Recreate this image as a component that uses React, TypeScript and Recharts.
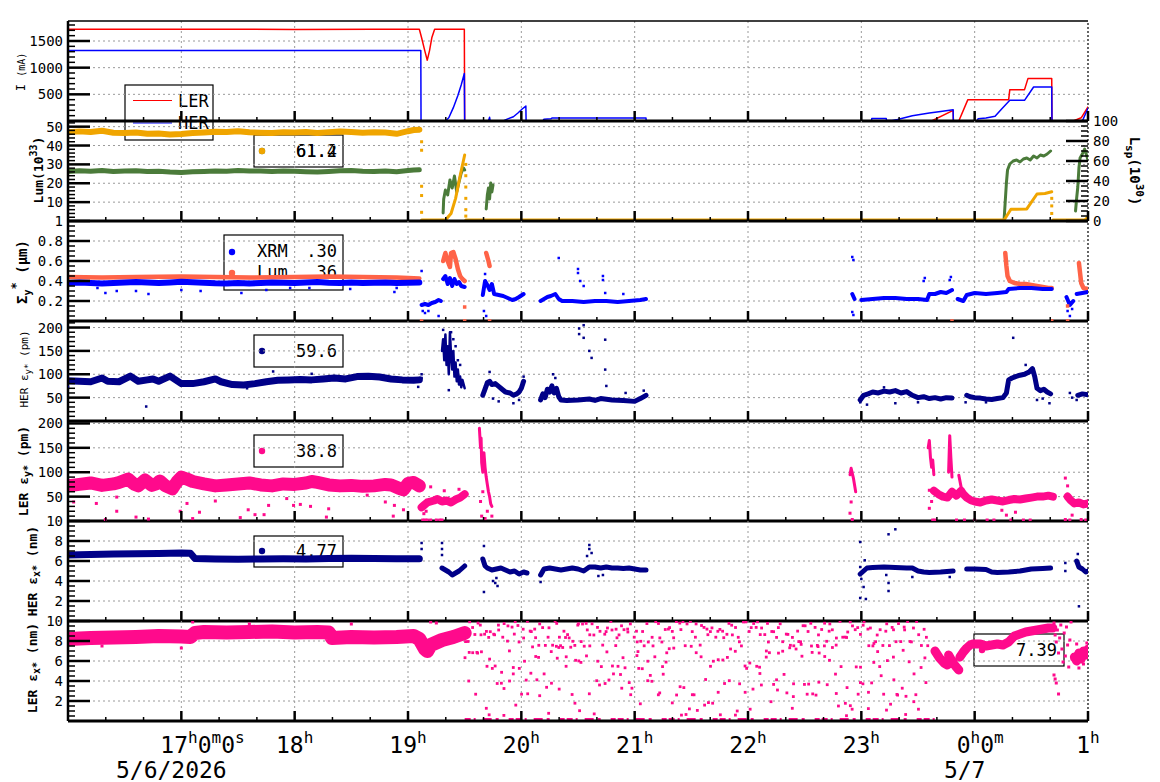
import React from "react"
import { ComposedChart, Line, Scatter, XAxis, YAxis, CartesianGrid, ReferenceLine } from "recharts"

type Pt = [number, number | null]

const MONO = "'DejaVu Sans Mono', monospace"
const RED = "#ff0000"
const BLUE = "#0000ff"
const ORANGE = "#f0a500"
const GREEN = "#4b7b3a"
const TOMATO = "#ff6347"
const NAVY = "#000088"
const PINK = "#ff0a8c"
const GRID = "#9a9a9a"

// time axis in hours since 16:00 of 5/6 (25 = 01:00 on 5/7)
const hourTicks = [17, 18, 19, 20, 21, 22, 23, 24, 25]
const hourNames = ["17", "18", "19", "20", "21", "22", "23", "0", "1"]
const hourExtra: Record<number, [string, string][]> = { 17: [["0", "m"], ["0", "s"]], 24: [["0", "m"]] }
const dateNames: Record<number, string> = { 17: "5/6/2026", 24: "5/7" }

// ---- beam currents I (mA)
const lerCurrent: Pt[] = [
  [16, 1720], [16.6, 1718], [17.3, 1722], [18.0, 1716], [18.7, 1720], [19.1, 1720],
  [19.12, 1560], [19.15, 1300], [19.17, 1140], [19.19, 1320], [19.21, 1560], [19.235, 1720],
  [19.497, 1720], [19.5, 0], [23.62, 0], [23.81, 200], [23.812, 0], [23.86, 0], [23.94, 400],
  [24.3, 400], [24.31, 588], [24.44, 588], [24.47, 795], [24.68, 795], [24.682, 0], [24.87, 0],
  [24.94, 60], [25, 263],
]
const herCurrent: Pt[] = [
  [16, 1320], [19.113, 1320], [19.115, 0], [19.33, 0], [19.36, 60], [19.4, 250], [19.44, 480],
  [19.47, 680], [19.497, 890], [19.5, 0], [19.71, 0], [19.72, 70], [19.725, 0], [19.84, 0],
  [19.88, 40], [19.93, 80], [19.97, 150], [20.01, 230], [20.04, 280], [20.042, 0], [20.19, 0],
  [20.2, 35], [20.26, 40], [20.27, 55], [21.1, 55], [21.102, 0], [23.09, 0], [23.092, 45],
  [23.22, 45], [23.222, 10], [23.27, 10], [23.32, 30], [23.45, 100], [23.6, 150], [23.7, 180],
  [23.81, 213], [23.812, 0], [24.02, 0], [24.03, 40], [24.1, 55], [24.18, 88], [24.24, 230],
  [24.31, 388], [24.44, 388], [24.52, 638], [24.68, 638], [24.682, 0], [24.95, 0], [25, 240],
]

// ---- luminosity Lum (1e33, left) and Lsp (1e30, right)
const lumEarly: Pt[] = [
  [16, 47], [16.1, 47.5], [16.2, 47.2], [16.3, 47.8], [16.4, 46.8], [16.5, 46.6], [16.6, 46.9],
  [16.7, 46.2], [16.8, 46.4], [16.9, 45.8], [17.0, 46.1], [17.1, 46.6], [17.2, 46.9], [17.3, 47.3],
  [17.4, 47.2], [17.5, 47.6], [17.6, 47.0], [17.7, 46.8], [17.8, 46.7], [17.9, 47.0], [18.0, 46.9],
  [18.1, 47.2], [18.2, 46.6], [18.3, 47.1], [18.4, 47.4], [18.5, 47.2], [18.6, 46.8], [18.7, 47.0],
  [18.8, 46.9], [18.9, 46.2], [19.0, 47.6], [19.05, 48.2], [19.1, 48.4],
]
const lumLate: Pt[] = [
  [19.12, 0.5], [19.33, 0.5], [19.38, 4], [19.42, 12], [19.46, 24], [19.5, 35], [19.505, null],
  [19.51, 0.5], [24.26, 0.5], [24.32, 6.2], [24.46, 6.4], [24.55, 14.3], [24.62, 14.6],
  [24.68, 15.5], [24.685, null], [24.69, 0.5], [24.97, 0.5], [25, 2],
]
const lumDots: Pt[] = [
  [19.12, 42], [19.12, 37.5], [19.12, 18.4], [19.12, 13.5], [19.12, 4.6],
  [19.51, 30], [19.51, 24], [19.51, 18], [19.51, 12], [19.51, 6], [19.51, 2.6],
  [24.68, 12], [24.68, 8], [24.68, 4],
]
const lspEarly: Pt[] = [
  [16, 49.5], [16.1, 50.2], [16.2, 49.8], [16.3, 50.6], [16.4, 49.6], [16.5, 49.9], [16.6, 50.3],
  [16.7, 49.4], [16.8, 49.7], [16.9, 49.0], [17.0, 48.6], [17.1, 49.2], [17.2, 49.6], [17.3, 50.1],
  [17.4, 49.8], [17.5, 50.4], [17.6, 49.9], [17.7, 50.1], [17.8, 49.5], [17.9, 50.0], [18.0, 49.7],
  [18.1, 49.3], [18.2, 48.9], [18.3, 49.6], [18.4, 50.2], [18.5, 50.4], [18.6, 49.8], [18.7, 49.5],
  [18.8, 50.0], [18.9, 49.2], [19.0, 50.4], [19.05, 51.0], [19.1, 51.2],
]
const lspLate: Pt[] = [
  [19.31, 8], [19.315, 22], [19.33, 31], [19.35, 26], [19.37, 41], [19.39, 33], [19.41, 45],
  [19.43, 29], [19.45, 39], [19.47, 48], [19.49, 53], [19.5, 51], [19.505, null],
  [19.69, 12], [19.7, 26], [19.71, 33], [19.72, 22], [19.73, 38], [19.74, 29], [19.75, 36], [19.755, null],
  [24.26, 2], [24.27, 20], [24.28, 38], [24.29, 51], [24.31, 57], [24.34, 60], [24.37, 61],
  [24.4, 59], [24.43, 62], [24.46, 63], [24.49, 61], [24.52, 65], [24.55, 63], [24.58, 66],
  [24.61, 65], [24.64, 67], [24.67, 70], [24.675, null],
  [24.89, 10], [24.9, 23], [24.91, 34], [24.92, 53], [24.93, 63], [24.95, 67], [24.97, 72],
  [24.99, 65], [25, 61],
]

// ---- Sigma_y* (um): XRM and from luminosity
const xrmEarly: Pt[] = [
  [16, 0.38], [16.1, 0.385], [16.2, 0.38], [16.3, 0.375], [16.4, 0.38], [16.5, 0.385], [16.6, 0.39],
  [16.7, 0.385], [16.8, 0.38], [16.9, 0.385], [17.0, 0.392], [17.1, 0.388], [17.2, 0.383],
  [17.3, 0.378], [17.4, 0.376], [17.5, 0.38], [17.6, 0.375], [17.7, 0.38], [17.8, 0.385],
  [17.9, 0.383], [18.0, 0.38], [18.1, 0.385], [18.2, 0.39], [18.3, 0.382], [18.4, 0.38],
  [18.5, 0.385], [18.6, 0.38], [18.7, 0.382], [18.8, 0.385], [18.9, 0.38], [19.0, 0.383], [19.1, 0.385],
]
const xrmLate: Pt[] = [
  [19.12, 0.16], [19.15, 0.17], [19.18, 0.16], [19.21, 0.18], [19.24, 0.19], [19.27, 0.21], [19.29, 0.2], [19.295, null],
  [19.31, 0.42], [19.33, 0.45], [19.35, 0.37], [19.37, 0.43], [19.39, 0.35], [19.41, 0.42], [19.43, 0.37],
  [19.45, 0.39], [19.47, 0.35], [19.5, 0.34], [19.505, null],
  [19.66, 0.26], [19.68, 0.4], [19.7, 0.36], [19.72, 0.31], [19.74, 0.37], [19.76, 0.27], [19.8, 0.26],
  [19.84, 0.25], [19.88, 0.23], [19.92, 0.21], [19.95, 0.22], [19.98, 0.24], [20.02, 0.27], [20.03, null],
  [20.17, 0.2], [20.2, 0.22], [20.23, 0.24], [20.26, 0.25], [20.3, 0.27], [20.33, 0.22], [20.36, 0.2],
  [20.45, 0.2], [20.55, 0.19], [20.65, 0.2], [20.75, 0.2], [20.85, 0.19], [20.95, 0.2], [21.05, 0.21],
  [21.1, 0.22], [21.11, null],
  [22.92, 0.27], [22.94, 0.22], [22.96, null], [23.0, 0.21], [23.1, 0.22], [23.2, 0.23], [23.3, 0.23],
  [23.4, 0.22], [23.5, 0.22], [23.58, 0.21], [23.6, 0.27], [23.65, 0.27], [23.7, 0.29], [23.75, 0.28],
  [23.8, 0.31], [23.82, null], [23.85, 0.22], [23.9, 0.2], [23.93, 0.26], [24.0, 0.28], [24.1, 0.27],
  [24.2, 0.28], [24.28, 0.29], [24.3, 0.32], [24.4, 0.33], [24.5, 0.33], [24.6, 0.32], [24.68, 0.32],
  [24.69, null], [24.81, 0.24], [24.84, 0.16], [24.87, 0.2], [24.88, null], [24.9, 0.27], [24.95, 0.28], [25, 0.29],
]
const xrmDots: Pt[] = [
  [16.26, 0.33], [16.33, 0.28], [16.43, 0.3], [16.6, 0.3], [16.71, 0.27], [17.0, 0.31], [17.17, 0.3],
  [17.53, 0.28], [17.75, 0.31], [17.96, 0.33], [18.13, 0.33], [18.49, 0.32], [18.88, 0.29], [18.9, 0.33],
  [19.12, 0.5], [19.13, 0.1], [19.15, 0.08], [19.18, 0.1], [19.27, 0.05], [19.67, 0.1], [19.68, 0.47],
  [19.69, 0.05], [20.33, 0.63], [20.5, 0.52], [20.5, 0.48], [20.52, 0.4], [20.55, 0.35], [20.72, 0.45],
  [20.72, 0.41], [20.74, 0.28], [20.9, 0.27], [22.92, 0.64], [22.93, 0.61], [22.92, 0.09], [22.93, 0.06],
  [23.55, 0.4], [23.56, 0.43], [23.78, 0.41], [23.79, 0.44], [24.82, 0.1], [24.84, 0.05], [24.86, 0.12],
]
const sigLumEarly: Pt[] = [
  [16, 0.44], [16.3, 0.435], [16.6, 0.44], [17.0, 0.445], [17.3, 0.44], [17.6, 0.435], [18.0, 0.44],
  [18.3, 0.445], [18.6, 0.44], [18.9, 0.435], [19.0, 0.43], [19.1, 0.425],
]
const sigLumLate: Pt[] = [
  [19.31, 0.6], [19.33, 0.68], [19.35, 0.6], [19.37, 0.54], [19.38, 0.68], [19.4, 0.69], [19.42, 0.62],
  [19.44, 0.52], [19.46, 0.45], [19.48, 0.42], [19.5, 0.4], [19.505, null],
  [19.69, 0.68], [19.7, 0.64], [19.71, 0.6], [19.72, 0.55], [19.73, null],
  [24.27, 0.68], [24.28, 0.55], [24.29, 0.45], [24.31, 0.4], [24.35, 0.38], [24.4, 0.37], [24.45, 0.37],
  [24.5, 0.36], [24.55, 0.35], [24.6, 0.34], [24.65, 0.33], [24.68, 0.33], [24.69, null],
  [24.92, 0.58], [24.93, 0.48], [24.94, 0.38], [24.96, 0.33], [25, 0.32],
]
const sigLumDots: Pt[] = [
  [19.12, 0], [19.5, 0], [19.5, 0.14], [19.72, 0], [23.8, 0], [24.68, 0], [24.82, 0], [24.82, 0.15],
]

// ---- HER eps_y* (pm)
const herEyEarly: Pt[] = [
  [16, 86], [16.1, 85], [16.2, 84], [16.3, 92], [16.35, 85], [16.45, 84], [16.55, 96], [16.62, 85],
  [16.7, 88], [16.75, 90], [16.8, 85], [16.9, 96], [16.95, 88], [17.0, 80], [17.1, 80], [17.2, 84],
  [17.3, 90], [17.35, 84], [17.45, 78], [17.55, 77], [17.65, 80], [17.75, 84], [17.85, 87], [17.95, 88],
  [18.05, 89], [18.15, 88], [18.25, 90], [18.35, 92], [18.45, 90], [18.55, 95], [18.65, 96], [18.75, 94],
  [18.85, 90], [18.95, 88], [19.05, 87], [19.1, 88],
]
const herEySpikes: Pt[] = [
  [19.3, 150], [19.31, 175], [19.32, 130], [19.33, 185], [19.34, 120], [19.35, 160], [19.36, 100],
  [19.37, 190], [19.38, 140], [19.39, 110], [19.4, 150], [19.41, 95], [19.42, 125], [19.43, 85],
  [19.44, 110], [19.45, 78], [19.46, 95], [19.47, 72], [19.48, 88], [19.5, 70],
]
const herEyLate: Pt[] = [
  [19.66, 55], [19.67, 62], [19.69, 75], [19.7, 82], [19.72, 85], [19.74, 78], [19.77, 80], [19.8, 74],
  [19.83, 68], [19.86, 62], [19.9, 60], [19.93, 55], [19.96, 58], [19.98, 62], [20.0, 70], [20.02, 85], [20.03, null],
  [20.17, 45], [20.19, 58], [20.21, 50], [20.23, 68], [20.25, 62], [20.27, 75], [20.29, 60], [20.31, 70],
  [20.33, 52], [20.35, 45], [20.4, 44], [20.5, 45], [20.6, 47], [20.65, 44], [20.7, 48], [20.8, 45],
  [20.9, 44], [21.0, 42], [21.05, 48], [21.1, 55], [21.11, null],
  [22.99, 45], [23.02, 55], [23.06, 58], [23.1, 62], [23.15, 60], [23.2, 64], [23.25, 62], [23.3, 65],
  [23.35, 60], [23.4, 63], [23.45, 55], [23.5, 50], [23.55, 52], [23.6, 48], [23.65, 50], [23.7, 47],
  [23.75, 50], [23.8, 49], [23.82, null],
  [23.93, 55], [23.96, 52], [24.0, 50], [24.05, 49], [24.1, 47], [24.15, 46], [24.2, 48], [24.25, 50],
  [24.28, 60], [24.3, 88], [24.33, 92], [24.36, 95], [24.4, 98], [24.44, 100], [24.48, 105], [24.51, 112],
  [24.53, 95], [24.55, 70], [24.58, 65], [24.61, 68], [24.64, 62], [24.67, 58], [24.68, null],
  [24.91, 55], [24.95, 58], [25, 56],
]
const herEyDots: Pt[] = [
  [16.0, 73], [16.69, 31], [17.58, 70], [17.81, 106], [18.15, 101], [19.09, 73], [19.12, 92], [19.12, 100],
  [19.31, 195], [19.33, 160], [19.35, 140], [19.38, 190], [19.4, 175], [19.42, 160], [19.36, 66],
  [19.44, 130], [19.46, 120], [19.72, 105], [19.75, 48], [19.8, 42], [19.93, 38], [19.98, 45], [20.02, 95],
  [20.28, 100], [20.3, 92], [20.51, 198], [20.51, 186], [20.55, 205], [20.55, 178], [20.6, 150],
  [20.62, 135], [20.74, 174], [20.74, 110], [20.75, 75], [20.92, 60], [21.08, 65], [22.99, 40], [23.05, 35],
  [23.2, 72], [23.3, 38], [23.5, 40], [23.92, 40], [24.1, 40], [24.34, 178], [24.45, 120], [24.55, 45],
  [24.6, 48], [24.66, 38], [24.84, 60], [24.86, 50], [24.9, 45],
]

// ---- LER eps_y* (pm)
const lerEyEarly: Pt[] = [
  [16, 72], [16.1, 75], [16.2, 78], [16.3, 73], [16.4, 76], [16.45, 79], [16.53, 86], [16.58, 76],
  [16.62, 72], [16.68, 84], [16.74, 73], [16.78, 76], [16.81, 82], [16.86, 72], [16.92, 66], [16.96, 80],
  [17.0, 90], [17.05, 86], [17.1, 81], [17.2, 76], [17.3, 72], [17.4, 74], [17.5, 76], [17.6, 78],
  [17.7, 74], [17.8, 72], [17.9, 76], [18.0, 75], [18.1, 78], [18.15, 81], [18.2, 79], [18.3, 74],
  [18.4, 72], [18.5, 73], [18.6, 71], [18.7, 72], [18.8, 75], [18.85, 74], [18.92, 67], [18.96, 64],
  [19.0, 77], [19.05, 79], [19.1, 72],
]
const lerEyBands: Pt[] = [
  [19.12, 28], [19.14, 32], [19.17, 38], [19.2, 40], [19.23, 42], [19.26, 45], [19.3, 40], [19.34, 42],
  [19.38, 38], [19.42, 44], [19.46, 48], [19.5, 55], [19.505, null],
  [23.64, 62], [23.68, 55], [23.72, 50], [23.76, 48], [23.8, 60], [23.84, 52], [23.88, 62], [23.9, 55],
  [23.93, 48], [23.97, 42], [24.0, 40], [24.05, 38], [24.1, 42], [24.15, 44], [24.2, 42], [24.25, 40],
  [24.3, 43], [24.35, 45], [24.4, 44], [24.45, 46], [24.5, 48], [24.55, 50], [24.6, 50], [24.65, 52],
  [24.69, 50], [24.7, null],
  [24.82, 50], [24.85, 42], [24.88, 36], [24.92, 38], [24.96, 34], [25, 36],
]
const lerEySpikes: Pt[] = [
  [19.63, 190], [19.64, 150], [19.645, 170], [19.65, 120], [19.66, 100], [19.67, 140], [19.68, 110],
  [19.69, 90], [19.7, 75], [19.71, 60], [19.72, 50], [19.73, 35], [19.74, 30], [19.745, null],
  [22.9, 95], [22.91, 108], [22.93, 88], [22.95, 60], [22.96, null],
  [23.59, 150], [23.6, 165], [23.61, 130], [23.62, 110], [23.63, 125], [23.64, 95], [23.65, null],
  [23.77, 100], [23.78, 175], [23.79, 130], [23.8, 90], [23.81, null], [23.86, 94], [23.88, 70],
]
const lerEyDots: Pt[] = [
  [16.05, 39], [16.25, 36], [16.33, 3], [16.43, 20], [16.43, 49], [16.6, 8], [16.71, 4], [16.99, 20],
  [17.05, 36], [17.1, 5], [17.16, 18], [17.3, 41], [17.52, 7], [17.59, 23], [17.65, 13], [17.73, 13],
  [17.77, 32], [17.93, 46], [17.99, 32], [18.05, 34], [18.14, 30], [18.28, 8], [18.3, 25], [18.64, 53],
  [18.8, 39], [18.87, 10], [18.88, 32], [18.96, 23],
  [19.13, 2], [19.15, 2], [19.17, 2], [19.2, 2], [19.25, 2], [19.28, 2], [19.3, 2], [19.14, 15], [19.16, 20],
  [19.2, 70], [19.32, 62], [19.45, 65], [19.64, 40], [19.65, 10], [19.68, 5], [19.7, 20], [19.74, 10],
  [19.66, 60], [22.91, 39], [22.9, 16], [22.92, 3], [23.6, 63], [23.6, 26], [23.62, 40], [23.63, 2],
  [23.65, 2], [23.84, 2], [23.91, 2], [24.0, 2], [24.11, 2], [24.17, 2], [24.24, 22], [24.28, 12],
  [24.32, 2], [24.36, 18], [24.43, 2], [24.49, 2], [24.8, 88], [24.82, 72], [24.8, 3], [24.84, 2],
  [24.86, 12], [24.94, 3], [24.98, 2],
]

// ---- HER eps_x* (nm)
const herExEarly: Pt[] = [
  [16, 6.6], [16.2, 6.65], [16.4, 6.7], [16.6, 6.72], [16.8, 6.75], [17.0, 6.8], [17.08, 6.78],
  [17.12, 6.25], [17.3, 6.2], [17.5, 6.18], [17.7, 6.2], [17.9, 6.22], [18.1, 6.2], [18.3, 6.25],
  [18.5, 6.28], [18.7, 6.25], [18.9, 6.22], [19.1, 6.22],
]
const herExLate: Pt[] = [
  [19.3, 5.3], [19.33, 5.1], [19.36, 4.9], [19.39, 4.6], [19.42, 4.8], [19.45, 5.0], [19.48, 5.3], [19.5, 5.5], [19.505, null],
  [19.66, 6.2], [19.68, 5.5], [19.7, 5.3], [19.74, 5.1], [19.78, 5.2], [19.82, 5.3], [19.86, 5.1],
  [19.9, 4.9], [19.94, 5.0], [19.98, 4.7], [20.02, 4.9], [20.05, 4.8], [20.06, null],
  [20.17, 4.6], [20.2, 5.2], [20.25, 5.3], [20.3, 5.2], [20.35, 5.1], [20.4, 5.2], [20.45, 5.3],
  [20.5, 5.2], [20.55, 5.0], [20.6, 5.4], [20.65, 5.4], [20.7, 5.3], [20.75, 5.4], [20.8, 5.3],
  [20.85, 5.3], [20.9, 5.25], [20.95, 5.3], [21.0, 5.2], [21.05, 5.1], [21.1, 5.1], [21.11, null],
  [22.99, 4.7], [23.02, 5.0], [23.05, 5.3], [23.1, 5.35], [23.2, 5.4], [23.3, 5.35], [23.4, 5.3],
  [23.45, 5.3], [23.5, 5.0], [23.55, 4.9], [23.6, 4.85], [23.7, 4.9], [23.81, 5.0], [23.82, null],
  [23.93, 5.2], [24.0, 5.2], [24.1, 5.15], [24.15, 4.9], [24.2, 4.85], [24.3, 4.9], [24.4, 5.0],
  [24.45, 5.1], [24.5, 5.2], [24.6, 5.25], [24.67, 5.3], [24.68, null],
  [24.9, 6.0], [24.92, 5.4], [24.95, 5.2], [24.98, 4.9], [25, 5.0],
]
const herExDots: Pt[] = [
  [19.12, 7.8], [19.12, 7.2], [19.3, 7.8], [19.3, 7.2], [19.3, 6.6], [19.67, 7.5], [19.67, 2.9],
  [19.75, 4.0], [19.77, 3.8], [19.79, 3.5], [19.78, 4.3], [20.17, 3.9], [20.6, 7.2], [20.6, 7.6],
  [20.62, 6.8], [20.58, 6.5], [20.68, 4.5], [20.72, 4.6], [22.99, 7.9], [22.99, 5.4], [23.0, 4.2],
  [23.02, 3.4], [23.04, 2.2], [22.99, 2.3], [23.03, 6.07], [23.24, 8.67], [23.3, 9.17], [23.24, 3.8],
  [23.24, 3.0], [23.22, 4.6], [23.78, 4.4], [23.45, 4.4], [24.8, 5.8], [24.8, 5.0], [24.92, 1.47], [24.91, 6.7],
]

// ---- LER eps_x* (nm)
const lerExEarly: Pt[] = [
  [16, 8.2], [16.2, 8.3], [16.4, 8.35], [16.6, 8.4], [16.8, 8.5], [17.0, 8.45], [17.08, 8.4],
  [17.12, 8.8], [17.2, 8.9], [17.4, 8.85], [17.6, 8.9], [17.8, 8.95], [18.0, 8.85], [18.2, 8.9],
  [18.3, 8.85], [18.33, 8.3], [18.5, 8.4], [18.7, 8.35], [18.9, 8.4], [19.05, 8.5], [19.1, 8.2],
  [19.15, 7.2], [19.17, 7.0], [19.2, 7.6], [19.3, 8.1], [19.4, 8.4], [19.5, 8.8],
]
const lerExLate: Pt[] = [
  [23.65, 7.0], [23.69, 6.3], [23.73, 5.8], [23.76, 5.6], [23.765, null],
  [23.77, 6.6], [23.8, 6.0], [23.83, 5.5], [23.86, 5.1], [23.865, null],
  [23.87, 6.4], [23.9, 6.9], [23.93, 7.3], [23.96, 7.6], [23.98, 7.7], [24.05, 7.7], [24.1, 7.5],
  [24.15, 7.6], [24.2, 7.7], [24.25, 7.6], [24.3, 7.9], [24.35, 8.5], [24.4, 8.7], [24.45, 8.9],
  [24.5, 9.0], [24.55, 9.1], [24.6, 9.2], [24.65, 9.3], [24.69, 9.3], [24.695, null],
  [24.88, 6.4], [24.9, 6.0], [24.92, 6.8], [24.94, 6.2], [24.96, 7.0], [24.98, 6.6], [25, 7.2],
]
const lerExDots: Pt[] = [
  [16.3, 7.5], [17.0, 7.3], [17.1, 9.9], [17.6, 9.7], [18.5, 9.7], [19.2, 9.9], [19.25, 9.8],
  [24.7, 9.8], [24.71, 8.6], [24.72, 7.9], [24.73, 9.1], [24.74, 6.8], [24.75, 8.3], [24.76, 9.6],
  [24.77, 7.2], [24.78, 5.9], [24.79, 8.8], [24.8, 6.5], [24.81, 9.4], [24.82, 7.6], [24.83, 5.4],
  [24.84, 8.1], [24.85, 9.9], [24.86, 6.2], [24.7, 4.6], [24.72, 3.8], [24.74, 2.7], [24.71, 4.2],
  [24.9, 7.7], [24.92, 5.3], [24.96, 5.7], [24.99, 7.8],
]
// scattered readings while the LER monitor was noisy (about 19:30 - 23:36): upper cloud
const lerExSparseHigh: Pt[] = [
  [19.508, 7.94], [19.53, 7.95], [19.544, 9.92], [19.57, 9.35], [19.59, 8.65], [19.618, 9.79], [19.638, 9.59],
  [19.644, 8.62], [19.676, 8.68], [19.692, 8.96], [19.712, 8.36], [19.726, 8.93], [19.756, 8.68], [19.764, 8.62],
  [19.798, 9.59], [19.8, 9.1], [19.836, 8.38], [19.848, 9.74], [19.878, 7.99], [19.882, 9.51], [19.918, 9.39],
  [19.938, 8.69], [19.946, 9.93], [19.97, 9.55], [19.98, 7.9], [20.016, 9.18], [20.02, 8.3], [20.054, 9.97],
  [20.078, 8.99], [20.088, 8.94], [20.118, 9.19], [20.126, 8.33], [20.154, 7.57], [20.162, 9.71], [20.188, 9.34],
  [20.212, 7.56], [20.236, 8.38], [20.244, 9.32], [20.276, 7.58], [20.298, 9.99], [20.312, 9.76], [20.336, 8.38],
  [20.346, 7.53], [20.376, 8.98], [20.39, 8.35], [20.408, 8.64], [20.422, 8.31], [20.454, 7.97], [20.472, 7.56],
  [20.498, 9.59], [20.504, 9.72], [20.528, 7.94], [20.54, 9.7], [20.572, 9.76], [20.582, 9.11], [20.604, 8.62],
  [20.624, 9.72], [20.64, 8.6], [20.672, 9.36], [20.694, 8.97], [20.718, 7.59], [20.736, 8.68], [20.748, 8.94],
  [20.76, 9.3], [20.79, 9.95], [20.8, 9.1], [20.836, 9.18], [20.844, 8.32], [20.862, 8.61], [20.884, 9.52],
  [20.906, 9.13], [20.938, 9.19], [20.94, 8.9], [20.962, 9.71], [20.996, 8.38], [21.016, 8.98], [21.022, 7.91],
  [21.054, 7.97], [21.07, 8.95], [21.084, 7.52], [21.108, 9.74], [21.12, 7.9], [21.154, 8.37], [21.162, 7.51],
  [21.186, 9.93], [21.21, 9.75], [21.222, 8.31], [21.24, 7.9], [21.27, 9.15], [21.298, 9.19], [21.308, 9.34],
  [21.332, 8.96], [21.344, 8.32], [21.368, 9.94], [21.398, 9.79], [21.408, 9.14], [21.426, 9.93], [21.446, 7.53],
  [21.462, 9.71], [21.492, 9.96], [21.508, 8.94], [21.536, 8.38], [21.542, 9.71], [21.578, 7.59], [21.59, 9.55],
  [21.612, 9.36], [21.638, 9.19], [21.646, 8.63], [21.668, 8.94], [21.682, 9.31], [21.716, 8.38], [21.734, 8.97],
  [21.752, 9.16], [21.776, 8.98], [21.786, 8.33], [21.814, 8.67], [21.832, 9.76], [21.856, 9.58], [21.862, 8.61],
  [21.89, 9.35], [21.914, 8.37], [21.924, 7.92], [21.942, 7.51], [21.96, 9.9], [21.982, 9.91], [22.01, 8.95],
  [22.028, 9.34], [22.05, 9.75], [22.072, 9.36], [22.084, 9.92], [22.108, 8.64], [22.12, 9.3], [22.148, 8.64],
  [22.172, 9.76], [22.18, 7.9], [22.21, 8.95], [22.226, 8.93], [22.252, 8.36], [22.268, 9.34], [22.284, 9.72],
  [22.306, 7.93], [22.338, 8.69], [22.352, 8.66], [22.374, 7.57], [22.392, 8.36], [22.404, 7.52], [22.438, 8.99],
  [22.448, 7.94], [22.464, 7.92], [22.486, 9.53], [22.504, 9.52], [22.53, 8.95], [22.554, 9.77], [22.56, 7.5],
  [22.592, 9.36], [22.612, 7.56], [22.622, 8.61], [22.65, 9.15], [22.676, 9.78], [22.694, 7.97], [22.716, 8.98],
  [22.722, 9.71], [22.744, 9.12], [22.778, 7.59], [22.78, 8.3], [22.812, 9.96], [22.836, 8.38], [22.858, 8.39],
  [22.87, 8.35], [22.88, 8.9], [22.902, 9.91], [22.922, 9.51], [22.946, 9.13], [22.968, 9.34], [22.992, 8.66],
  [23.016, 9.58], [23.024, 9.92], [23.058, 9.19], [23.066, 7.53], [23.08, 9.3], [23.102, 7.51], [23.126, 7.93],
  [23.14, 8.6], [23.166, 9.13], [23.19, 7.55], [23.216, 8.98], [23.224, 9.72], [23.248, 7.54], [23.272, 9.36],
  [23.284, 9.12], [23.306, 7.93], [23.328, 9.74], [23.348, 7.94], [23.378, 9.39], [23.382, 9.11], [23.408, 9.94],
  [23.43, 7.95], [23.442, 7.91], [23.46, 9.3], [23.488, 9.94], [23.506, 8.63], [23.53, 7.55], [23.554, 9.17],
  [23.574, 8.37], [23.586, 7.53],
]
// middle of the same cloud
const lerExSparseMid: Pt[] = [
  [19.536, 4.0], [19.597, 2.68], [19.614, 6.79], [19.691, 1.27], [19.72, 6.19], [19.769, 5.5], [19.826, 4.87],
  [19.847, 3.25], [19.896, 4.0], [19.929, 5.35], [20.002, 2.68], [20.043, 4.09], [20.084, 4.78], [20.137, 4.12],
  [20.162, 2.53], [20.223, 3.37], [20.264, 6.94], [20.317, 6.28], [20.334, 3.19], [20.395, 5.47], [20.448, 2.65],
  [20.473, 1.78], [20.514, 1.03], [20.555, 7.48], [20.604, 7.51], [20.665, 4.03], [20.706, 5.44], [20.755, 6.91],
  [20.804, 5.5], [20.833, 7.54], [20.886, 3.28], [20.915, 5.32], [20.976, 3.28], [21.029, 6.94], [21.05, 1.72],
  [21.115, 4.03], [21.152, 3.97], [21.209, 2.62], [21.246, 5.44], [21.283, 6.82], [21.332, 1.81], [21.401, 3.43],
  [21.434, 3.34], [21.483, 1.21], [21.524, 2.62], [21.553, 1.06], [21.626, 4.15], [21.651, 1.84], [21.688, 1.78],
  [21.737, 6.13], [21.778, 6.1], [21.835, 4.03], [21.888, 6.97], [21.905, 1.0], [21.974, 5.5], [22.019, 1.18],
  [22.044, 3.19], [22.105, 4.75], [22.162, 7.0], [22.203, 1.93], [22.252, 4.12], [22.269, 6.79], [22.318, 4.66],
  [22.391, 1.27], [22.4, 2.44], [22.469, 7.66], [22.522, 2.68], [22.571, 2.71], [22.6, 2.59], [22.625, 3.88],
  [22.674, 7.51], [22.719, 6.07], [22.772, 4.69], [22.821, 5.44], [22.874, 3.34], [22.919, 1.18], [22.972, 2.68],
  [22.993, 5.38], [23.062, 1.24], [23.111, 7.75], [23.144, 6.94], [23.197, 2.68], [23.222, 1.09], [23.287, 4.12],
  [23.32, 2.59], [23.361, 3.28], [23.394, 2.47], [23.463, 1.93], [23.504, 1.18], [23.561, 6.31],
]
// lower, thinner part of the same cloud
const lerExSparseLow: Pt[] = [
  [19.503, 6.33], [19.54, 6.86], [19.571, 6.83], [19.608, 6.86], [19.648, 6.92], [19.697, 5.47], [19.716, 0.62],
  [19.744, 5.26], [19.787, 3.75], [19.824, 3.78], [19.846, 0.56], [19.895, 7.01], [19.929, 4.71], [19.951, 1.59],
  [19.982, 5.26], [20.028, 5.98], [20.056, 2.72], [20.099, 7.41], [20.127, 6.45], [20.152, 6.36], [20.201, 4.71],
  [20.241, 0.77], [20.266, 3.78], [20.309, 7.47], [20.331, 7.35], [20.365, 7.35], [20.396, 6.42], [20.436, 7.38],
  [20.479, 6.07], [20.507, 6.01], [20.526, 5.86], [20.575, 6.51], [20.6, 2.72], [20.643, 0.71], [20.674, 5.98],
  [20.69, 3.6], [20.739, 3.75], [20.773, 4.1], [20.813, 4.71], [20.853, 5.47], [20.875, 4.65], [20.897, 6.33],
  [20.952, 3.84], [20.965, 2.63], [21.02, 6.54], [21.036, 5.26], [21.067, 5.23], [21.116, 5.98], [21.138, 4.56],
  [21.178, 6.42], [21.221, 2.81], [21.252, 4.68], [21.277, 5.89], [21.305, 7.23], [21.345, 7.29], [21.37, 2.6],
  [21.413, 0.59], [21.453, 0.65], [21.499, 7.47], [21.509, 2.63], [21.543, 6.83], [21.586, 6.42], [21.617, 1.59],
  [21.669, 5.47], [21.694, 5.98], [21.737, 2.87], [21.756, 0.62], [21.793, 3.75], [21.818, 6.36], [21.846, 7.2],
  [21.889, 0.59], [21.926, 3.72], [21.975, 2.87], [21.988, 5.26], [22.016, 5.8], [22.077, 5.47], [22.102, 5.38],
  [22.118, 3.6], [22.161, 6.39], [22.189, 6.83], [22.226, 3.66], [22.26, 3.1], [22.306, 6.98], [22.343, 2.81],
  [22.368, 7.32], [22.402, 3.72], [22.424, 7.2], [22.476, 6.48], [22.498, 3.66], [22.535, 3.69], [22.566, 6.86],
  [22.618, 7.44], [22.628, 6.8], [22.677, 6.45], [22.699, 3.63], [22.745, 7.35], [22.779, 2.75], [22.798, 1.5],
  [22.859, 1.77], [22.869, 0.53], [22.903, 1.53], [22.955, 5.41], [22.992, 3.84], [23.014, 3.72], [23.063, 2.87],
  [23.091, 3.81], [23.11, 5.86], [23.162, 5.44], [23.175, 4.53], [23.23, 6.04], [23.258, 1.68], [23.283, 6.39],
  [23.314, 2.66], [23.369, 7.07], [23.391, 0.65], [23.422, 5.92], [23.465, 4.71], [23.481, 2.63], [23.527, 5.35],
  [23.57, 3.84],
]
const lerExFloor: Pt[] = [[19.5, 0.15], [23.65, 0.15]]

// legend read-outs
const lumReadout = ["61.4", "61.2"]
const sigmaReadout = [["XRM", ".30"], ["Lum", ".36"]]
const herEyReadout = "59.6"
const lerEyReadout = "38.8"
const herExReadout = "4.77"
const lerExReadout = "7.39"

const rows = (pts: Pt[]) => pts.map(([t, v]) => ({ t, v }))

const xTicks: number[] = []
for (let k = 49; k <= 75; k++) xTicks.push(k / 3)

const M = 12
const PLOT_H = 100

function band(key: string, pts: Pt[], color: string, w: number, axis: string | number = 0) {
  return (
    <Line key={key} data={rows(pts)} dataKey="v" yAxisId={axis} stroke={color} strokeWidth={w}
      dot={false} activeDot={false} isAnimationActive={false} strokeLinejoin="round" strokeLinecap="round" />
  )
}

function dots(key: string, pts: Pt[], color: string, size = 3, axis: string | number = 0) {
  return (
    <Scatter key={key} data={rows(pts)} dataKey="v" yAxisId={axis} fill={color} isAnimationActive={false}
      shape={(p: any) => <rect x={p.cx - size / 2} y={p.cy - size / 2} width={size} height={size} fill={color} />} />
  )
}

function XTick(props: any) {
  const { x, y, payload, labels } = props
  const v = payload.value
  const major = Math.abs(v - Math.round(v)) < 1e-6
  const h = Math.round(v)
  const i = hourTicks.indexOf(h)
  const extra = hourExtra[h]
  return (
    <g>
      <line x1={x} x2={x} y1={y} y2={y - (major ? 10 : 4)} stroke="#000" strokeWidth={major ? 2.5 : 1.5} />
      {labels && major && i >= 0 && (
        <text x={extra ? x - (h === 17 ? 21 : 18) : x} y={y + 32} textAnchor={extra ? "start" : "middle"}
          fontSize={23} fontFamily={MONO} fill="#000">
          {hourNames[i]}
          <tspan dy={-10} fontSize={16}>h</tspan>
          {extra && extra.map(([n, u], j) => (
            <React.Fragment key={j}>
              <tspan dy={10} fontSize={23}>{n}</tspan>
              <tspan dy={-10} fontSize={16}>{u}</tspan>
            </React.Fragment>
          ))}
        </text>
      )}
      {labels && major && dateNames[h] && (
        <text x={x - 10} y={y + 57} textAnchor="middle" fontSize={23} fontFamily={MONO} fill="#000">{dateNames[h]}</text>
      )}
    </g>
  )
}

function YTick(props: any) {
  const { x, y, payload, majors, fmt, side } = props
  const v = payload.value
  const major = majors.some((m: number) => Math.abs(m - v) < 1e-9)
  const dir = side === "right" ? -1 : 1
  return (
    <g>
      <line x1={x} x2={x + dir * (major ? 22 : 7)} y1={y} y2={y} stroke="#000" strokeWidth={major ? 2.5 : 1.5} />
      {major && (
        <text x={x - dir * 5} y={y} dy="0.36em" textAnchor={side === "right" ? "start" : "end"}
          fontSize={14} fontFamily={MONO} fill="#000">{fmt(v)}</text>
      )}
    </g>
  )
}

function stepTicks(lo: number, hi: number, step: number, withLo = false) {
  const out: number[] = []
  for (let k = Math.ceil(lo / step - 1e-9); k <= Math.floor(hi / step + 1e-9); k++) {
    const v = +(k * step).toFixed(6)
    if (v > lo || withLo) out.push(v)
  }
  return out
}

interface PanelProps {
  top: number
  domain: [number, number]
  majors: number[]
  step: number
  fmt?: (v: number) => string
  xLabels?: boolean
  rightAxis?: boolean
  topLine?: boolean
  children: React.ReactNode
}

function Panel({ top, domain, majors, step, fmt = (v) => String(v), xLabels = false, rightAxis = false, topLine = false, children }: PanelProps) {
  const xh = xLabels ? 62 : M
  const H = M + PLOT_H + xh
  return (
    <div style={{ position: "absolute", left: 0, top: top - M }}>
      <ComposedChart width={1160} height={H} margin={{ top: M, right: rightAxis ? 12 : 72, bottom: 0, left: 8 }}>
        <CartesianGrid horizontalValues={majors.filter((m) => m < domain[1])} verticalValues={hourTicks.slice(0, 8)}
          stroke={GRID} strokeDasharray="2 3" />
        <XAxis dataKey="t" type="number" domain={[16, 25]} allowDataOverflow ticks={xTicks} interval={0}
          tickSize={0} tickMargin={0} tickLine={false} height={xh}
          axisLine={{ stroke: "#000", strokeWidth: 3 }}
          tick={(p: any) => <XTick {...p} labels={xLabels} />} />
        <YAxis yAxisId={0} dataKey="v" type="number" domain={domain} allowDataOverflow ticks={stepTicks(domain[0], domain[1], step)}
          interval={0} tickSize={0} tickMargin={0} tickLine={false} width={60}
          axisLine={{ stroke: "#000", strokeWidth: 2.5 }}
          tick={(p: any) => <YTick {...p} majors={majors} fmt={fmt} side="left" />} />
        {rightAxis && (
          <YAxis yAxisId="r" orientation="right" dataKey="v" type="number" domain={[0, 100]} allowDataOverflow
            ticks={stepTicks(0, 100, 5, true)} interval={0} tickSize={0} tickMargin={0} tickLine={false} width={60}
            axisLine={false}
            tick={(p: any) => <YTick {...p} majors={[0, 20, 40, 60, 80, 100]} fmt={(v: number) => String(v)} side="right" />} />
        )}
        {topLine && <ReferenceLine y={domain[1]} stroke="#000" strokeWidth={1.5} />}
        <ReferenceLine x={25} stroke="#000" strokeWidth={1.2} strokeDasharray="2 2" />
        {children}
      </ComposedChart>
    </div>
  )
}

function Overlay() {
  const t = { fontFamily: MONO, fill: "#000" }
  const box = { fill: "none", stroke: "#000", strokeWidth: 1.2 }
  return (
    <svg width={1160} height={782} style={{ position: "absolute", left: 0, top: 0 }}>
      {/* axis titles */}
      <text {...t} transform="translate(25,72) rotate(-90)" textAnchor="middle" fontSize={12}>
        I <tspan fontSize={10}>(mA)</tspan>
      </text>
      <text {...t} transform="translate(43,170) rotate(-90)" textAnchor="middle" fontSize={13} fontWeight="bold">
        Lum(10<tspan dy={-6} fontSize={10}>33</tspan><tspan dy={6}>)</tspan>
      </text>
      <text {...t} transform="translate(27,272) rotate(-90)" textAnchor="middle" fontSize={14} fontWeight="bold">
        Σ<tspan dy={4} fontSize={10}>y</tspan><tspan dy={-11} fontSize={12}>*</tspan><tspan dy={7}> (μm)</tspan>
      </text>
      <text {...t} transform="translate(28,369) rotate(-90)" textAnchor="middle" fontSize={11}>
        HER ε<tspan dy={3} fontSize={9}>y*</tspan><tspan dy={-3}> (pm)</tspan>
      </text>
      <text {...t} transform="translate(28,471) rotate(-90)" textAnchor="middle" fontSize={13} fontWeight="bold">
        LER ε<tspan dy={3} fontSize={10}>y*</tspan><tspan dy={-3}> (pm)</tspan>
      </text>
      <text {...t} transform="translate(37,571) rotate(-90)" textAnchor="middle" fontSize={13} fontWeight="bold">
        HER ε<tspan dy={3} fontSize={10}>x*</tspan><tspan dy={-3}> (nm)</tspan>
      </text>
      <text {...t} transform="translate(37,668) rotate(-90)" textAnchor="middle" fontSize={13} fontWeight="bold">
        LER ε<tspan dy={3} fontSize={10}>x*</tspan><tspan dy={-3}> (nm)</tspan>
      </text>
      <text {...t} transform="translate(1130,171) rotate(90)" textAnchor="middle" fontSize={14} fontWeight="bold">
        L<tspan dy={4} fontSize={11}>sp</tspan><tspan dy={-4}>(10</tspan><tspan dy={-6} fontSize={11}>30</tspan><tspan dy={6}>)</tspan>
      </text>

      {/* legends */}
      <rect x={125} y={85} width={88} height={55} {...box} />
      <line x1={133} x2={172} y1={100.5} y2={100.5} stroke={RED} strokeWidth={1.2} />
      <text {...t} x={178} y={107} fontSize={17}>LER</text>
      <line x1={133} x2={172} y1={123} y2={123} stroke={BLUE} strokeWidth={1.2} />
      <text {...t} x={178} y={129} fontSize={17}>HER</text>

      <rect x={254} y={135} width={89} height={32} {...box} />
      <circle cx={262} cy={151} r={3.2} fill={GREEN} />
      <circle cx={262} cy={151} r={3.2} fill={ORANGE} />
      {lumReadout.map((s) => <text key={s} {...t} x={337} y={157} fontSize={17} textAnchor="end">{s}</text>)}

      <rect x={224} y={235} width={119} height={55} {...box} />
      <circle cx={232} cy={252} r={3.2} fill={BLUE} />
      <text {...t} x={257} y={257} fontSize={17}>{sigmaReadout[0][0]}</text>
      <text {...t} x={337} y={257} fontSize={17} textAnchor="end">{sigmaReadout[0][1]}</text>
      <circle cx={232} cy={273} r={3.2} fill={TOMATO} />
      <text {...t} x={257} y={278} fontSize={17}>{sigmaReadout[1][0]}</text>
      <text {...t} x={337} y={278} fontSize={17} textAnchor="end">{sigmaReadout[1][1]}</text>

      <rect x={254} y={335} width={89} height={32} {...box} />
      <circle cx={262} cy={351} r={3.2} fill={NAVY} />
      <text {...t} x={337} y={357} fontSize={17} textAnchor="end">{herEyReadout}</text>

      <rect x={254} y={435} width={89} height={32} {...box} />
      <circle cx={262} cy={451} r={3.2} fill={PINK} />
      <text {...t} x={337} y={457} fontSize={17} textAnchor="end">{lerEyReadout}</text>

      <rect x={254} y={536} width={89} height={31} {...box} />
      <circle cx={262} cy={551} r={3.2} fill={NAVY} />
      <text {...t} x={337} y={557} fontSize={17} textAnchor="end">{herExReadout}</text>

      <rect x={974} y={634} width={90} height={32} {...box} />
      <circle cx={982} cy={650} r={3.2} fill={PINK} />
      <text {...t} x={1057} y={656} fontSize={17} textAnchor="end">{lerExReadout}</text>
    </svg>
  )
}

export default function App() {
  return (
    <div style={{ position: "absolute", left: 0, top: 0, width: 1160, height: 782, background: "#fff", overflow: "hidden" }}>
      <Overlay />
      <Panel top={21} domain={[0, 1875]} majors={[500, 1000, 1500]} step={100} topLine>
        {band("ler", lerCurrent, RED, 1.5)}
        {band("her", herCurrent, BLUE, 1.5)}
      </Panel>
      <Panel top={121} domain={[0, 53]} majors={[10, 20, 30, 40, 50]} step={2} rightAxis>
        {band("lsp1", lspEarly, GREEN, 5, "r")}
        {band("lsp2", lspLate, GREEN, 3, "r")}
        {band("lum1", lumEarly, ORANGE, 6)}
        {band("lum2", lumLate, ORANGE, 3)}
        {dots("lumd", lumDots, ORANGE, 3)}
      </Panel>
      <Panel top={221} domain={[0, 1]} majors={[0.2, 0.4, 0.6, 0.8, 1]} step={0.05}
        fmt={(v) => (Math.abs(v - 1) < 1e-9 ? "1" : v.toFixed(1))}>
        {band("sl1", sigLumEarly, TOMATO, 4.5)}
        {band("sl2", sigLumLate, TOMATO, 4.5)}
        {dots("sld", sigLumDots, TOMATO, 3.5)}
        {band("x1", xrmEarly, BLUE, 6)}
        {band("x2", xrmLate, BLUE, 4)}
        {dots("xd", xrmDots, BLUE, 2.5)}
      </Panel>
      <Panel top={321} domain={[0, 214]} majors={[50, 100, 150, 200]} step={10}>
        {band("he1", herEyEarly, NAVY, 7)}
        {band("he2", herEySpikes, NAVY, 2.5)}
        {band("he3", herEyLate, NAVY, 5)}
        {dots("hed", herEyDots, NAVY, 2.5)}
      </Panel>
      <Panel top={421} domain={[0, 205]} majors={[50, 100, 150, 200]} step={10}>
        {band("le1", lerEyEarly, PINK, 13)}
        {band("le2", lerEyBands, PINK, 8)}
        {band("le3", lerEySpikes, PINK, 3)}
        {dots("led", lerEyDots, PINK, 3)}
      </Panel>
      <Panel top={521} domain={[0, 10]} majors={[2, 4, 6, 8, 10]} step={0.5}>
        {band("hx1", herExEarly, NAVY, 7)}
        {band("hx2", herExLate, NAVY, 5)}
        {dots("hxd", herExDots, NAVY, 2.5)}
      </Panel>
      <Panel top={621} domain={[0, 10]} majors={[2, 4, 6, 8, 10]} step={0.5} xLabels>
        {band("lx1", lerExEarly, PINK, 14)}
        {dots("lxh", lerExSparseHigh, PINK, 2.8)}
        {dots("lxm", lerExSparseMid, PINK, 2.8)}
        {dots("lxl", lerExSparseLow, PINK, 2.8)}
        <Line data={rows(lerExFloor)} dataKey="v" stroke={PINK} strokeWidth={3} dot={false} activeDot={false}
          isAnimationActive={false} strokeDasharray="6 3 2 7 9 4 3 10 5 2" />
        {band("lx2", lerExLate, PINK, 9)}
        {dots("lxd", lerExDots, PINK, 3)}
      </Panel>
    </div>
  )
}
